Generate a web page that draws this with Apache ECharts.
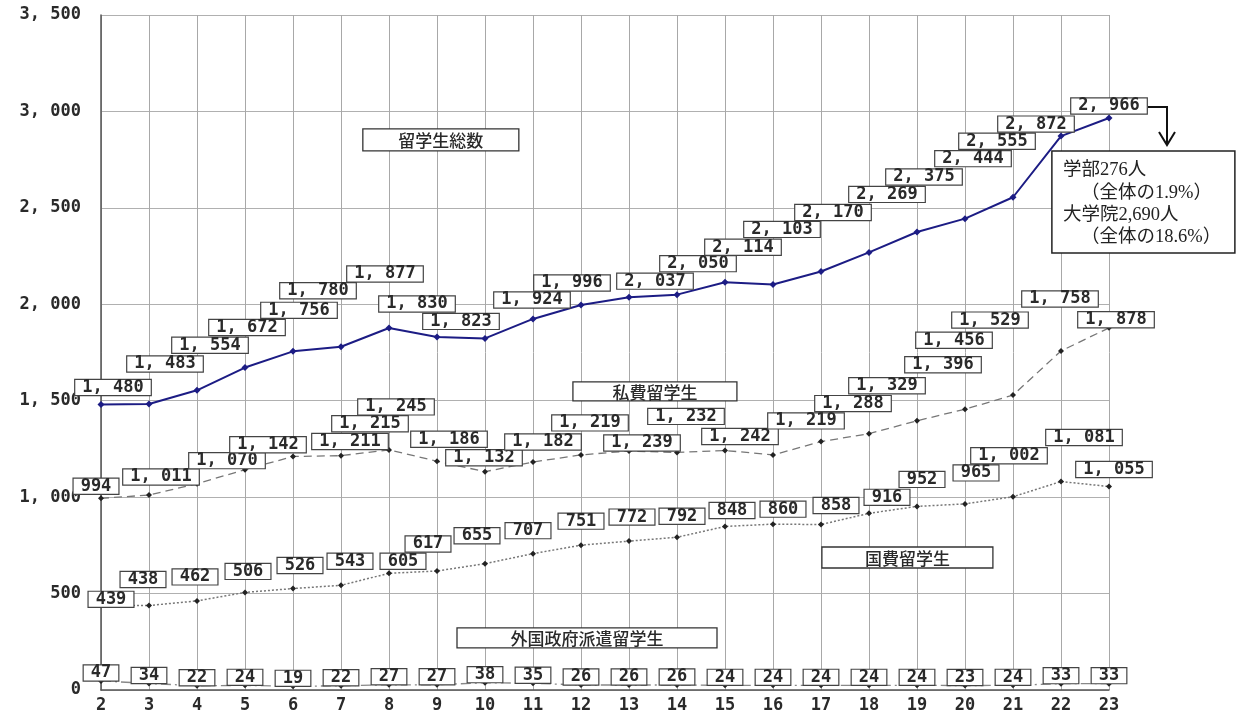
<!DOCTYPE html>
<html><head><meta charset="utf-8">
<script src="https://cdn.jsdelivr.net/npm/echarts/dist/echarts.min.js"></script>
<style>html,body{margin:0;padding:0;background:#fff}#c{width:1238px;height:718px}</style>
</head><body><div id="c"></div>
<script>
const categories = ['2','3','4','5','6','7','8','9','10','11','12','13','14','15','16','17','18','19','20','21','22','23'];
const totalStudents = [1480,1483,1554,1672,1756,1780,1877,1830,1823,1924,1996,2037,2050,2114,2103,2170,2269,2375,2444,2555,2872,2966];
const privateStudents = [994,1011,1070,1142,1211,1215,1245,1186,1132,1182,1219,1239,1232,1242,1219,1288,1329,1396,1456,1529,1758,1878];
const governmentStudents = [439,438,462,506,526,543,605,617,655,707,751,772,792,848,860,858,916,952,965,1002,1081,1055];
const foreignGovStudents = [47,34,22,24,19,22,27,27,38,35,26,26,26,24,24,24,24,24,23,24,33,33];
const yTickValues = [0,500,1000,1500,2000,2500,3000,3500];
const seriesNames = ['留学生総数','私費留学生','国費留学生','外国政府派遣留学生'];
const noteLines = ['学部276人','（全体の1.9%）','大学院2,690人','（全体の18.6%）'];

// label placement (pixel offsets of label centre from its point)
const totalLabelOffsets = [[12,-17],[16,-40],[13,-45],[2,-40],[6,-41],[-23,-56],[-4,-54],[-20,-33],[-24,-17],[-1,-19],[-9,-22],[26,-16],[21,-31],[18,-35],[9,-55],[12,-59],[18,-58],[7,-55],[8,-60],[-16,-56],[-25,-12],[0,-12]];
const privateLabelOffsets = [[-5,-12],[12,-18],[30,-23],[23,-25],[57,-15],[29,-32],[7,-43],[12,-22],[-1,-14],[10,-20],[9,-32],[13,-8],[9,-36],[15,-14],[33,-34],[32,-38],[18,-48],[26,-56],[-11,-69],[-23,-75],[-1,-52],[7,-8]];
const governmentLabelOffsets = [[10,-6],[-6,-26],[-2,-24],[3,-21],[7,-23],[9,-24],[14,-12],[-9,-27],[-8,-28],[-5,-23],[0,-24],[3,-24],[5,-21],[7,-16],[10,-15],[15,-19],[18,-16],[5,-27],[11,-31],[-4,-41],[23,-44],[5,-17]];

const MONO = '"DejaVu Sans Mono", monospace';
const CJK = '"Noto Sans CJK JP", sans-serif';

function fmt(v){ return v >= 1000 ? Math.floor(v/1000) + ', ' + String(v % 1000).padStart(3,'0') : String(v); }

const labelBase = {
  show: true, position: 'inside', formatter: p => fmt(p.value),
  fontFamily: MONO, fontSize: 17, fontWeight: 'bold', lineHeight: 15, color: '#2a2a2a',
  backgroundColor: '#fff', borderColor: '#444', borderWidth: 1.2, padding: [0, 7]
};

function mkData(vals, offs){
  return vals.map((v,i) => ({ value: v, label: { offset: offs ? offs[i] : [0,-8] } }));
}

const chart = echarts.init(document.getElementById('c'));
chart.setOption({
  animation: false,
  grid: { left: 101, right: 129, top: 15, bottom: 28 },
  xAxis: {
    type: 'category', data: categories, boundaryGap: false,
    axisLine: { show: true, lineStyle: { color: '#555', width: 1.5 } },
    axisTick: { show: false },
    axisLabel: { fontFamily: MONO, fontSize: 17, fontWeight: 'bold', color: '#2a2a2a', margin: 7 },
    splitLine: { show: true, lineStyle: { color: '#a8a8a8', width: 1 } }
  },
  yAxis: {
    type: 'value', min: 0, max: 3500, interval: 500,
    axisLine: { show: true, lineStyle: { color: '#555', width: 1.5 } },
    axisTick: { show: false },
    axisLabel: { fontFamily: MONO, fontSize: 17, fontWeight: 'bold', color: '#2a2a2a', margin: 20,
      formatter: v => yTickValues.includes(v) ? fmt(v) : '' },
    splitLine: { show: true, lineStyle: { color: '#b0b0b0', width: 1 } }
  },
  series: [
    { name: seriesNames[0], type: 'line', data: mkData(totalStudents, totalLabelOffsets),
      symbol: 'diamond', symbolSize: 7, z: 5,
      lineStyle: { color: '#1c1c84', width: 2 }, itemStyle: { color: '#1c1c84' }, label: labelBase },
    { name: seriesNames[1], type: 'line', data: mkData(privateStudents, privateLabelOffsets),
      symbol: 'diamond', symbolSize: 6, z: 4,
      lineStyle: { color: '#777', width: 1.3, type: [8, 5] }, itemStyle: { color: '#222' }, label: labelBase },
    { name: seriesNames[2], type: 'line', data: mkData(governmentStudents, governmentLabelOffsets),
      symbol: 'diamond', symbolSize: 6, z: 4,
      lineStyle: { color: '#777', width: 1.5, type: [2, 2] }, itemStyle: { color: '#222' }, label: labelBase },
    { name: seriesNames[3], type: 'line', data: mkData(foreignGovStudents, null),
      symbol: 'diamond', symbolSize: 6, z: 3,
      lineStyle: { color: '#888', width: 1.3, type: [10, 4, 2, 4] }, itemStyle: { color: '#222' }, label: labelBase }
  ]
});

// annotations anchored to data space
function toPx(idx, val){
  const a = chart.convertToPixel({ gridIndex: 0 }, [0, val]);
  const b = chart.convertToPixel({ gridIndex: 0 }, [categories.length - 1, val]);
  return [a[0] + (b[0] - a[0]) * idx / (categories.length - 1), a[1]];
}
const nameBoxes = [
  { text: seriesNames[0], idx: 7.08, val: 2852, w: 156, h: 22 },
  { text: seriesNames[1], idx: 11.54, val: 1548, w: 164, h: 19 },
  { text: seriesNames[2], idx: 16.80, val: 687, w: 171, h: 21 },
  { text: seriesNames[3], idx: 10.125, val: 270, w: 260, h: 20 }
];
const graphics = [];
nameBoxes.forEach(b => {
  const p = toPx(b.idx, b.val);
  graphics.push({ type: 'group', x: p[0], y: p[1], children: [
    { type: 'rect', shape: { x: -b.w/2, y: -b.h/2, width: b.w, height: b.h },
      style: { fill: '#fff', stroke: '#333', lineWidth: 1.3 } },
    { type: 'text', x: 0, y: 1, style: { text: b.text, fontFamily: CJK, fontSize: 17, fontWeight: 500, fill: '#2a2a2a',
      align: 'center', verticalAlign: 'middle' } }
  ]});
});
// note box with arrow from last total point
const pEnd = toPx(categories.length - 1, totalStudents[totalStudents.length - 1]);
graphics.push({ type: 'polyline', shape: { points: [[pEnd[0]+39, pEnd[1]-11],[pEnd[0]+58, pEnd[1]-11],[pEnd[0]+58, pEnd[1]+26]] },
  style: { stroke: '#111', lineWidth: 2, fill: null }, z: 10 });
graphics.push({ type: 'polyline', shape: { points: [[pEnd[0]+50, pEnd[1]+14],[pEnd[0]+58, pEnd[1]+27],[pEnd[0]+66, pEnd[1]+14]] },
  style: { stroke: '#111', lineWidth: 2, fill: null }, z: 10 });
const nb = toPx(19.81, 2795);
const noteChildren = [
  { type: 'rect', shape: { x: 0, y: 0, width: 183, height: 102 }, style: { fill: '#fff', stroke: '#222', lineWidth: 1.5 } }
];
const noteX = [11, 29, 11, 29], noteY = [19, 42, 64, 86];
noteLines.forEach((t, i) => noteChildren.push({ type: 'text', x: noteX[i], y: noteY[i],
  style: { text: t, fontFamily: '"Liberation Serif", "Noto Sans CJK JP", serif', fontSize: 18.5, fill: '#222', verticalAlign: 'middle' } }));
graphics.push({ type: 'group', x: nb[0], y: nb[1], z: 10, children: noteChildren });

chart.setOption({ graphic: graphics });
</script></body></html>
